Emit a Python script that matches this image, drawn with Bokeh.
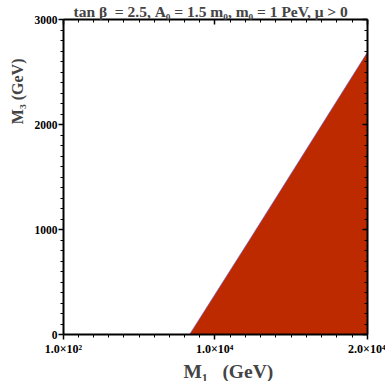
from bokeh.plotting import figure
from bokeh.models import LinearAxis, FixedTicker, Range1d, Title
from bokeh.embed import file_html
from bokeh.resources import INLINE

# ---- data ----
m1_boundary = [8350, 12250, 20000]      # GeV, edge of the shaded region
m3_boundary = [0, 895, 2690]            # GeV
x_major = [100, 10000, 20000]
x_labels = ["1.0×10²", "1.0×10⁴", "2.0×10⁴"]
y_major = [0, 1000, 2000, 3000]
title_text = "tan β\u00a0 = 2.5, A₀ = 1.5 m₀, m₀ = 1 PeV, μ > 0"
xlabel_text = "M₁\u00a0\u00a0 (GeV)"
ylabel_text = "M₃ (GeV)"

FONT = "Liberation Serif"
RED = "#BE2A00"

W, H = 385, 381
p = figure(width=W, height=H, output_backend="svg", toolbar_location=None,
           x_range=Range1d(100, 20000), y_range=Range1d(0, 3000),
           x_axis_type=None, y_axis_type=None,
           min_border_left=58, min_border_right=18,
           min_border_top=19, min_border_bottom=47)
p.outline_line_color = None
p.xgrid.visible = False
p.ygrid.visible = False
p.background_fill_color = "white"
p.border_fill_color = "white"

# shaded region
poly_x = m1_boundary + [m1_boundary[-1]]
poly_y = m3_boundary + [0]
p.patch(poly_x, poly_y, fill_color=RED, line_color=None)
p.line(m1_boundary, m3_boundary, line_color="#6f5fd0", line_width=1, line_alpha=0.6)

x_minor = [100 + 990 * i for i in range(1, 10)] + [10000 + 1000 * i for i in range(1, 10)]
y_minor = [100 * i for i in range(1, 30) if i % 10]

def style_axis(ax, outward, labels):
    ax.axis_line_width = 2
    ax.axis_line_color = "black"
    ax.major_tick_line_width = 1.5
    ax.minor_tick_line_width = 1
    if outward:
        ax.major_tick_out, ax.major_tick_in = 5, 0
        ax.minor_tick_out, ax.minor_tick_in = 3, 0
    else:
        ax.major_tick_out, ax.major_tick_in = 0, 5
        ax.minor_tick_out, ax.minor_tick_in = 0, 3
    if labels:
        ax.major_label_text_font = FONT
        ax.major_label_text_font_style = "bold"
        ax.major_label_text_color = "black"
    else:
        ax.major_label_text_font_size = "1px"
        ax.major_label_text_color = None
        ax.major_label_standoff = 0

xb = LinearAxis(ticker=FixedTicker(ticks=x_major, minor_ticks=x_minor))
xb.major_label_overrides = {v: s for v, s in zip(x_major, x_labels)}
style_axis(xb, True, True)
xb.major_label_text_font_size = "12px"
xb.major_label_standoff = 2
p.add_layout(xb, "below")

xt = LinearAxis(ticker=FixedTicker(ticks=x_major, minor_ticks=x_minor))
style_axis(xt, False, False)
p.add_layout(xt, "above")

yl = LinearAxis(ticker=FixedTicker(ticks=y_major, minor_ticks=y_minor))
style_axis(yl, True, True)
yl.major_label_text_font_size = "11.5px"
yl.major_label_standoff = 1
p.add_layout(yl, "left")

yr = LinearAxis(ticker=FixedTicker(ticks=y_major, minor_ticks=y_minor))
style_axis(yr, False, False)
p.add_layout(yr, "right")

# title and axis labels
p.title = Title(text=title_text, text_font=FONT, text_font_style="bold",
                text_font_size="15.5px", align="left", offset=10, standoff=0)
p.add_layout(Title(text=xlabel_text, text_font=FONT, text_font_style="bold",
                   text_font_size="19.5px", align="left", offset=120, standoff=0), "below")
p.add_layout(Title(text=ylabel_text, text_font=FONT, text_font_style="bold",
                   text_font_size="16px", align="right", offset=39, standoff=12), "left")

open("out.html", "w").write(file_html(p, INLINE))
